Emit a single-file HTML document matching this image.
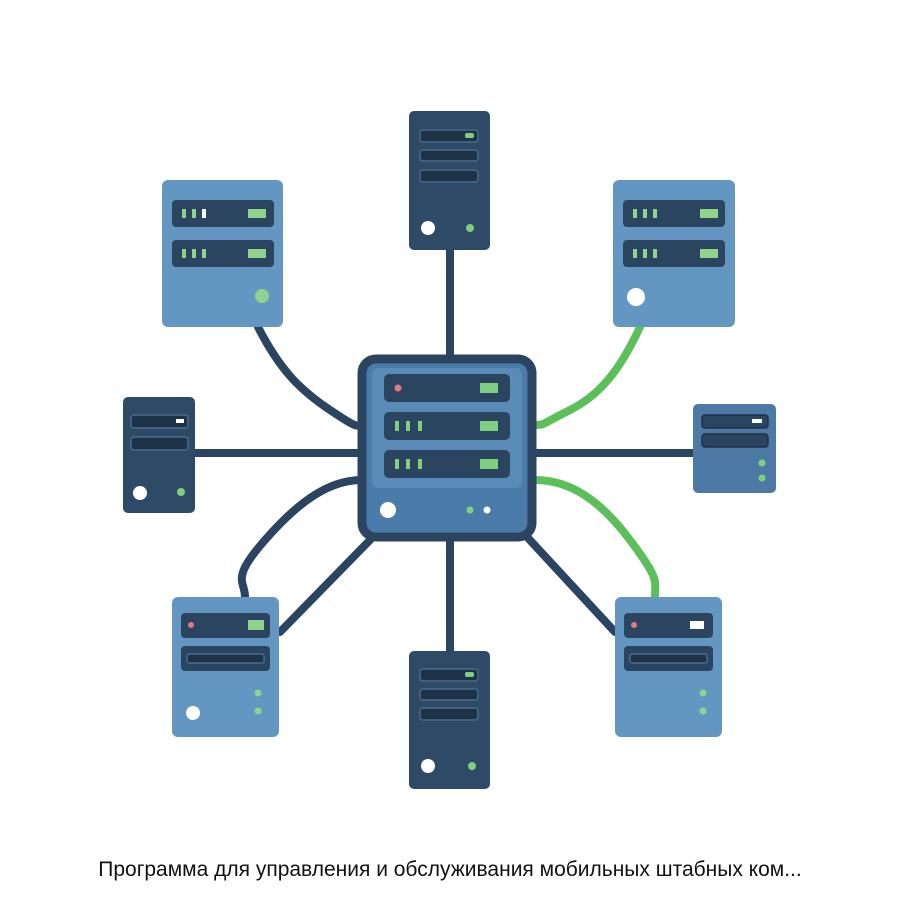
<!DOCTYPE html>
<html><head><style>
html,body{margin:0;padding:0;background:#fff;width:900px;height:900px;overflow:hidden}
.t{position:absolute;left:0;width:900px;top:858px;text-align:center;font-family:"Liberation Sans",sans-serif;font-size:21px;color:#111;white-space:nowrap}
</style></head><body>
<svg width="900" height="900" style="position:absolute;left:0;top:0">
<g fill="none" stroke-width="8" stroke-linecap="round">
<path d="M450 250V360M450 535V655M195 453H360M535 453H695" stroke="#2b4560"/>
<path d="M258 327 C280 370 300 390 330 410 S355 425 362 425" stroke="#2b4560"/>
<path d="M362 480 C330 480 300 500 265 540 S245 580 245 597" stroke="#2b4560"/>
<path d="M372 538 L280 632M528 538 L615 632" stroke="#2b4560"/>
<path d="M640 327 C620 370 600 395 570 410 S545 425 535 425" stroke="#5cc05a"/>
<path d="M535 480 C570 480 600 500 630 540 S655 580 655 597" stroke="#5cc05a"/>
</g>
<rect x="362" y="359" width="170" height="178" rx="14" fill="#4b7ba8" stroke="#2b4560" stroke-width="9"/>
<rect x="372" y="368" width="150" height="120" rx="6" fill="#5a8ab6"/>
<g fill="#2b4560"><rect x="384" y="374" width="126" height="28" rx="5"/><rect x="384" y="412" width="126" height="28" rx="5"/><rect x="384" y="450" width="126" height="28" rx="5"/></g>
<circle cx="398" cy="388" r="3.5" fill="#e07a80"/>
<g fill="#7fcf7e"><rect x="480" y="383" width="18" height="10"/><rect x="480" y="421" width="18" height="10"/><rect x="480" y="459" width="18" height="10"/>
<rect x="395" y="421" width="4" height="10"/><rect x="406" y="421" width="4" height="10"/><rect x="418" y="421" width="4" height="10"/>
<rect x="395" y="459" width="4" height="10"/><rect x="406" y="459" width="4" height="10"/><rect x="418" y="459" width="4" height="10"/>
<circle cx="470" cy="510" r="3.5"/></g>
<circle cx="388" cy="510" r="8" fill="#fff"/><circle cx="487" cy="510" r="3.5" fill="#fff"/>
<rect x="409" y="111" width="81" height="139" rx="5" fill="#2e4a66"/>
<g fill="#1e3248" stroke="#4a6a8a" stroke-width="1.5"><rect x="420" y="130" width="58" height="12" rx="3"/><rect x="420" y="150" width="58" height="11" rx="3"/><rect x="420" y="170" width="58" height="12" rx="3"/></g>
<rect x="465" y="133" width="9" height="5" rx="2" fill="#7fcf7e"/>
<circle cx="428" cy="228" r="7" fill="#fff"/><circle cx="470" cy="228" r="4" fill="#7fcf7e"/>
<rect x="162" y="180" width="121" height="147" rx="6" fill="#6496c2"/>
<g fill="#2b4560"><rect x="172" y="200" width="102" height="27" rx="4"/><rect x="172" y="240" width="102" height="27" rx="4"/></g>
<g fill="#8fd38c"><rect x="182" y="209" width="4" height="9"/><rect x="192" y="209" width="4" height="9"/><rect x="202" y="209" width="4" height="9" fill="#fff"/><rect x="248" y="209" width="18" height="9"/>
<rect x="182" y="249" width="4" height="9"/><rect x="192" y="249" width="4" height="9"/><rect x="202" y="249" width="4" height="9"/><rect x="248" y="249" width="18" height="9"/>
<circle cx="262" cy="296" r="7"/></g>
<rect x="613" y="180" width="122" height="147" rx="6" fill="#6496c2"/>
<g fill="#2b4560"><rect x="623" y="200" width="102" height="27" rx="4"/><rect x="623" y="240" width="102" height="27" rx="4"/></g>
<g fill="#8fd38c"><rect x="633" y="209" width="4" height="9"/><rect x="643" y="209" width="4" height="9"/><rect x="653" y="209" width="4" height="9"/><rect x="700" y="209" width="18" height="9"/>
<rect x="633" y="249" width="4" height="9"/><rect x="643" y="249" width="4" height="9"/><rect x="653" y="249" width="4" height="9"/><rect x="700" y="249" width="18" height="9"/></g>
<circle cx="636" cy="297" r="9" fill="#fff"/>
<rect x="123" y="397" width="72" height="116" rx="5" fill="#2e4a66"/>
<g fill="#1e3248" stroke="#4a6a8a" stroke-width="1.5"><rect x="131" y="415" width="57" height="13" rx="3"/><rect x="131" y="437" width="57" height="13" rx="3"/></g>
<rect x="176" y="419" width="8" height="4" fill="#fff"/>
<circle cx="140" cy="493" r="7" fill="#fff"/><circle cx="181" cy="492" r="4" fill="#7fcf7e"/>
<rect x="693" y="404" width="83" height="89" rx="5" fill="#4d7aa5"/>
<g fill="#2b4560" stroke="#1e3248" stroke-width="1.5"><rect x="702" y="415" width="66" height="13" rx="3"/><rect x="702" y="434" width="66" height="13" rx="3"/></g>
<rect x="752" y="419" width="10" height="4" fill="#fff"/>
<circle cx="762" cy="463" r="3.5" fill="#7fcf7e"/><circle cx="762" cy="478" r="3.5" fill="#7fcf7e"/>
<rect x="172" y="597" width="107" height="140" rx="6" fill="#6496c2"/>
<g fill="#2b4560"><rect x="181" y="613" width="89" height="25" rx="4"/><rect x="181" y="646" width="89" height="25" rx="4"/></g>
<rect x="187" y="654" width="77" height="9" rx="2" fill="#1e3248" stroke="#5a82aa"/>
<circle cx="191" cy="625" r="3" fill="#e07a80"/><rect x="248" y="620" width="16" height="10" fill="#8fd38c"/>
<circle cx="258" cy="693" r="3.5" fill="#8fd38c"/><circle cx="258" cy="711" r="3.5" fill="#8fd38c"/><circle cx="193" cy="713" r="7" fill="#fff"/>
<rect x="409" y="651" width="81" height="138" rx="5" fill="#2e4a66"/>
<g fill="#1e3248" stroke="#4a6a8a" stroke-width="1.5"><rect x="420" y="669" width="58" height="12" rx="3"/><rect x="420" y="689" width="58" height="11" rx="3"/><rect x="420" y="708" width="58" height="12" rx="3"/></g>
<rect x="465" y="672" width="9" height="5" rx="2" fill="#7fcf7e"/>
<circle cx="428" cy="766" r="7" fill="#fff"/><circle cx="472" cy="766" r="4" fill="#7fcf7e"/>
<rect x="615" y="597" width="107" height="140" rx="6" fill="#6496c2"/>
<g fill="#2b4560"><rect x="624" y="613" width="89" height="25" rx="4"/><rect x="624" y="646" width="89" height="25" rx="4"/></g>
<rect x="630" y="654" width="77" height="9" rx="2" fill="#1e3248" stroke="#5a82aa"/>
<circle cx="634" cy="625" r="3" fill="#e07a80"/><rect x="690" y="621" width="14" height="8" fill="#fff"/>
<circle cx="703" cy="693" r="3.5" fill="#8fd38c"/><circle cx="703" cy="711" r="3.5" fill="#8fd38c"/>
</svg>
<div class="t">Программа для управления и обслуживания мобильных штабных ком...</div>
</body></html>
